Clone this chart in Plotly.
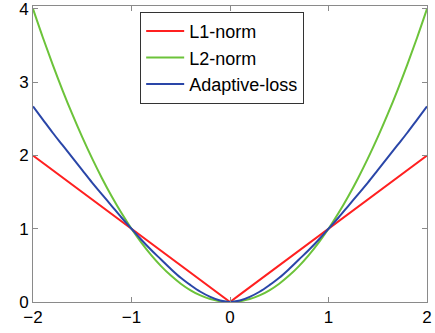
import plotly.graph_objects as go

x = [-2.0, -1.9, -1.8, -1.7, -1.6, -1.5, -1.4, -1.3, -1.2, -1.1, -1.0,
     -0.9, -0.8, -0.7, -0.6, -0.5, -0.4, -0.3, -0.2, -0.1, 0.0,
     0.1, 0.2, 0.3, 0.4, 0.5, 0.6, 0.7, 0.8, 0.9, 1.0,
     1.1, 1.2, 1.3, 1.4, 1.5, 1.6, 1.7, 1.8, 1.9, 2.0]

l1_norm = [2.0, 1.9, 1.8, 1.7, 1.6, 1.5, 1.4, 1.3, 1.2, 1.1, 1.0,
           0.9, 0.8, 0.7, 0.6, 0.5, 0.4, 0.3, 0.2, 0.1, 0.0,
           0.1, 0.2, 0.3, 0.4, 0.5, 0.6, 0.7, 0.8, 0.9, 1.0,
           1.1, 1.2, 1.3, 1.4, 1.5, 1.6, 1.7, 1.8, 1.9, 2.0]

l2_norm = [4.0, 3.61, 3.24, 2.89, 2.56, 2.25, 1.96, 1.69, 1.44, 1.21, 1.0,
           0.81, 0.64, 0.49, 0.36, 0.25, 0.16, 0.09, 0.04, 0.01, 0.0,
           0.01, 0.04, 0.09, 0.16, 0.25, 0.36, 0.49, 0.64, 0.81, 1.0,
           1.21, 1.44, 1.69, 1.96, 2.25, 2.56, 2.89, 3.24, 3.61, 4.0]

adaptive_loss = [2.67, 2.49, 2.31, 2.14, 1.97, 1.80, 1.63, 1.47, 1.31, 1.15, 1.0,
                 0.85, 0.71, 0.58, 0.45, 0.33, 0.23, 0.14, 0.07, 0.02, 0.0,
                 0.02, 0.07, 0.14, 0.23, 0.33, 0.45, 0.58, 0.71, 0.85, 1.0,
                 1.15, 1.31, 1.47, 1.63, 1.80, 1.97, 2.14, 2.31, 2.49, 2.67]

x_ticks = [-2, -1, 0, 1, 2]
y_ticks = [0, 1, 2, 3, 4]

fig = go.Figure()
fig.add_trace(go.Scatter(x=x, y=l1_norm, mode="lines", name="L1-norm",
                         line=dict(color="#ff2020", width=2)))
fig.add_trace(go.Scatter(x=x, y=l2_norm, mode="lines", name="L2-norm",
                         line=dict(color="#6cc33a", width=2, shape="spline")))
fig.add_trace(go.Scatter(x=x, y=adaptive_loss, mode="lines", name="Adaptive-loss",
                         line=dict(color="#2a46a8", width=2, shape="spline")))

axis_common = dict(
    showgrid=False, zeroline=False, showline=True, linecolor="#8a8a8a", linewidth=1,
    mirror="allticks", ticks="inside", ticklen=5, tickcolor="#8a8a8a",
    ticklabeloverflow="allow", automargin=False,
    tickfont=dict(family="Liberation Sans, Arial", size=17, color="black"),
)

fig.update_layout(
    width=435, height=333,
    margin=dict(l=33, r=8, t=6, b=31),
    paper_bgcolor="white", plot_bgcolor="white",
    xaxis=dict(range=[-2, 2], tickvals=x_ticks, **axis_common),
    yaxis=dict(range=[0, 4.04], tickvals=y_ticks, **axis_common),
    legend=dict(x=0.272, y=0.98, xanchor="left", yanchor="top",
                bordercolor="#333333", borderwidth=1, bgcolor="white",
                itemwidth=38, tracegroupgap=0,
                font=dict(family="Liberation Sans, Arial", size=18, color="black")),
    showlegend=True,
)

fig.write_html("out.html", config={"displayModeBar": False},
               post_script="document.body.style.margin='0px';")
